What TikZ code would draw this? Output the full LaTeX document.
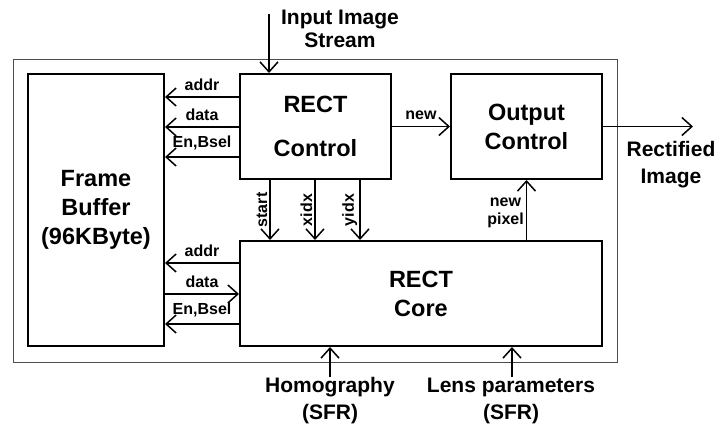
\documentclass[tikz,border=0pt]{standalone}
\usepackage{fontspec}
\setmainfont{Liberation Sans}
\usetikzlibrary{arrows.meta,positioning}

\begin{document}
\begin{tikzpicture}[x=1pt, y=-1pt,
  blockbox/.style={draw, line width=2pt, align=center, inner sep=0pt,
    font=\fontsize{23.5}{29}\selectfont\bfseries},
  sigarrow/.style={-{Straight Barb[length=10pt,width=18pt,line width=1.5pt]}, line width=1.5pt},
  siglbl/.style={font=\fontsize{16}{18}\selectfont\bfseries, inner sep=2pt},
  extlbl/.style={align=center, inner sep=1pt, font=\fontsize{21}{27}\selectfont\bfseries}]

\useasboundingbox (0,0) rectangle (716,428);

% Enclosing box
\draw[line width=1pt, black!70] (13,60) rectangle (617,362);

% Blocks
\node[blockbox, minimum width=136pt, minimum height=272pt] (frame) at (96,210) {Frame\\Buffer\\(96KByte)};
\node[blockbox, minimum width=151pt, minimum height=105pt] (ctrl) at (315.5,126.5) {RECT\\[15pt]Control};
\node[blockbox, minimum width=151pt, minimum height=105pt] (outc) at (526.5,126.5) {Output\\Control};
\node[blockbox, minimum width=362pt, minimum height=105pt] (core) at (421,293.5) {RECT\\Core};

% Input stream
\coordinate (instream) at (269,14);
\draw[sigarrow] (instream) -- (instream |- ctrl.north);
\node[extlbl, font=\fontsize{21}{23}\selectfont\bfseries] (inlbl) at (340,29) {Input Image\\Stream};

% Control <-> frame buffer
\draw[sigarrow] (ctrl.west |- 0,97) -- (frame.east |- 0,97)
  node[siglbl, midway, above=4pt] {addr};
\draw[sigarrow] (ctrl.west |- 0,127) -- (frame.east |- 0,127)
  node[siglbl, midway, above=4pt] {data};
\draw[sigarrow] (ctrl.west |- 0,157) -- (frame.east |- 0,157)
  node[siglbl, midway, above=4pt] {En,Bsel};

% Core <-> frame buffer
\draw[sigarrow] (core.west |- 0,263) -- (frame.east |- 0,263)
  node[siglbl, midway, above=4pt] {addr};
\draw[sigarrow] (frame.east |- 0,294) -- (core.west |- 0,294)
  node[siglbl, midway, above=4pt] {data};
\draw[sigarrow] (core.west |- 0,324) -- (frame.east |- 0,324)
  node[siglbl, midway, above=4pt] {En,Bsel};

% Control -> core
\draw[sigarrow] (ctrl.south -| 270,0) -- (core.north -| 270,0)
  node[siglbl, midway, rotate=90, anchor=south] {start};
\draw[sigarrow] (ctrl.south -| 315,0) -- (core.north -| 315,0)
  node[siglbl, midway, rotate=90, anchor=south] {xidx};
\draw[sigarrow] (ctrl.south -| 360,0) -- (core.north -| 360,0)
  node[siglbl, midway, rotate=90, anchor=south] {yidx};

% Output side
\draw[sigarrow] (ctrl.east) -- (outc.west)
  node[siglbl, midway, above=4pt] {new};
\draw[sigarrow] (outc.south |- core.north) -- (outc.south)
  node[siglbl, midway, left, align=center, yshift=-3pt] {new\\pixel};
\coordinate (rectout) at (693,126.5);
\draw[sigarrow] (outc.east) -- (rectout);
\node[extlbl] (rectlbl) at (671,165) {Rectified\\Image};

% Parameters
\node[extlbl] (homo) at (330,401) {Homography\\(SFR)};
\node[extlbl] (lens) at (511,401) {Lens parameters\\(SFR)};
\draw[sigarrow] (homo.north) -- (homo.north |- core.south);
\draw[sigarrow] (lens.north -| 512,0) -- (core.south -| 512,0);

\end{tikzpicture}
\end{document}
